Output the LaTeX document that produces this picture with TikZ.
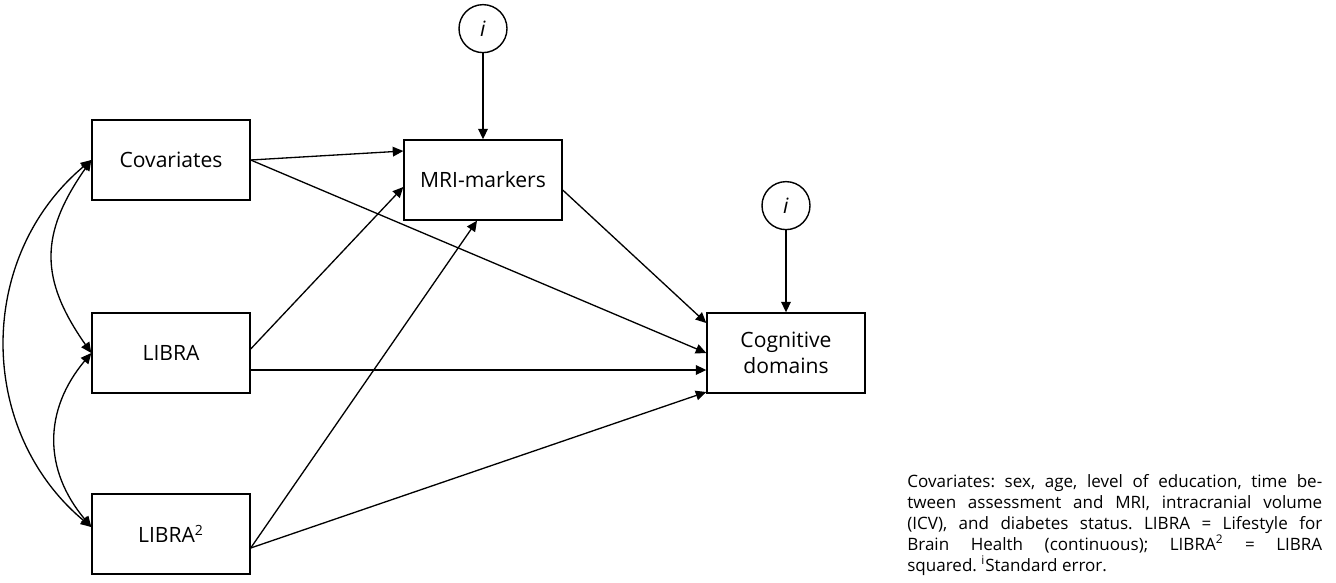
\documentclass[tikz,border=0pt]{standalone}
\usepackage{fontspec}
\setmainfont{Open Sans}
\usetikzlibrary{arrows.meta}
\usetikzlibrary{positioning}
\tikzset{
    box/.style={
        rectangle,
        draw=black,
        line width=0.8pt,
        text width=2.8cm,
        text centered,
        minimum width=3.16cm,
        minimum height=1.6cm,
        font=\fontsize{12}{14.5}\selectfont
    },
    errterm/.style={
        circle,
        draw=black,
        line width=0.8pt,
        minimum size=0.96cm,
        inner sep=0pt,
        font=\fontsize{12}{14.5}\selectfont
    },
    arrow/.style={
        ->,
        >={Triangle[length=6pt,width=5.5pt]},
        line width=0.75pt,
        draw=black
    },
    covar/.style={
        arrow,
        <->
    },
    note/.style={
        text width=8.3cm,
        align=justify,
        inner sep=0pt,
        anchor=north west,
        font=\fontsize{9.7}{11.9}\selectfont\frenchspacing
    }
}

\begin{document}
\begin{tikzpicture}[x=0.02cm, y=-0.02cm]
\useasboundingbox (0,0) rectangle (1336,582);

% 1. Observed variables
\node[box] (cov) at (171,160) {Covariates};
\node[box] (libra) at (171,353) {LIBRA};
\node[box] (librasq) at (171,534) {LIBRA\textsuperscript{2}};
\node[box] (mri) at (483,180) {MRI-markers};
\node[box] (cog) at (786,353) {Cognitive\\domains};

% 2. Error terms
\node[errterm, above=1.72cm of mri] (emri) {\textit{i}};
\node[errterm, above=1.64cm of cog] (ecog) {\textit{i}};
\draw[arrow] (emri) -- (mri.north);
\draw[arrow] (ecog) -- (cog.north);

% 3. Paths
\draw[arrow] (cov.east) -- ([yshift=0.58cm]mri.west);
\draw[arrow] (cov.east) -- (cog.west);
\draw[arrow] ([yshift=0.08cm]libra.east) -- ([yshift=-0.14cm]mri.west);
\draw[arrow] ([yshift=-0.34cm]libra.east) -- ([yshift=-0.34cm]cog.west);
\draw[arrow] ([yshift=-0.28cm]librasq.east) -- ([xshift=-0.12cm]mri.south);
\draw[arrow] ([yshift=-0.28cm]librasq.east) -- ([yshift=-0.78cm]cog.west);
\draw[arrow] ([yshift=-0.2cm]mri.east) -- ([yshift=0.6cm]cog.west);

% 4. Covariances
\draw[covar] (cov.west) to[out=-125, in=125, looseness=1.2] (libra.west);
\draw[covar] (libra.west) to[out=-130, in=130, looseness=1.1] ([yshift=0.14cm]librasq.west);
\draw[covar] (cov.west) to[out=-140, in=140, looseness=1.05] ([yshift=0.14cm]librasq.west);

% 5. Note
\node[note] (legend) at (907,474) {Covariates: sex, age, level of education, time be-\linebreak
tween assessment and MRI, intracranial volume\linebreak
(ICV), and diabetes status. LIBRA = Lifestyle for\linebreak
Brain Health (continuous); LIBRA\textsuperscript{2} = LIBRA\linebreak
squared. \textsuperscript{i}Standard error.};

\end{tikzpicture}
\end{document}
